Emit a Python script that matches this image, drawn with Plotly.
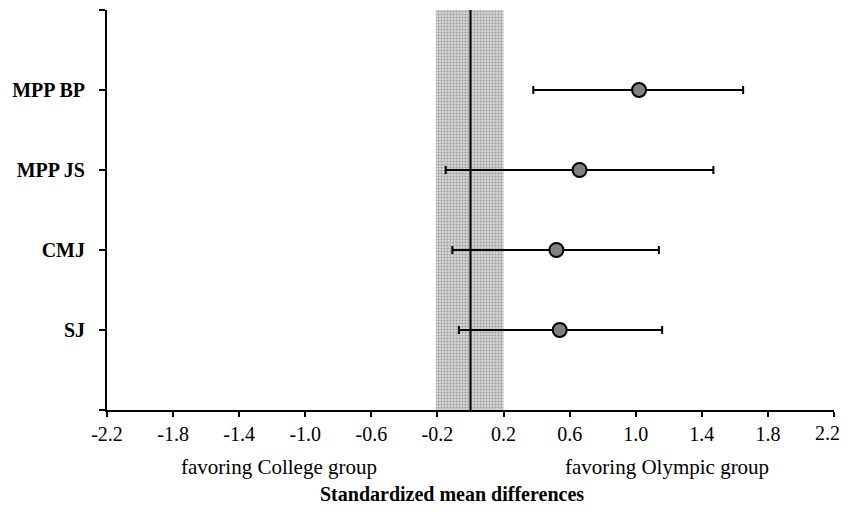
import plotly.graph_objects as go

outcomes = ["SJ", "CMJ", "MPP JS", "MPP BP"]
y_pos = [1, 2, 3, 4]
smd = [0.54, 0.52, 0.66, 1.02]
ci_low = [-0.07, -0.11, -0.15, 0.38]
ci_high = [1.16, 1.14, 1.47, 1.65]

x_ticks = [-2.2, -1.8, -1.4, -1.0, -0.6, -0.2, 0.2, 0.6, 1.0, 1.4, 1.8, 2.2]
x_ticktext = ["-2.2", "-1.8", "-1.4", "-1.0", "-0.6", "-0.2", "0.2", "0.6", "1.0", "1.4", "1.8", "2.2"]
y_ticks = [0, 1, 2, 3, 4, 5]
y_ticktext = ["", "SJ", "CMJ", "MPP JS", "MPP BP", ""]

trivial_band = [-0.21, 0.2]
y_span = [0, 5]

FONT = "Liberation Serif"

# page has an 8px body margin; figure is sized so plot lands at the reference pixels
OFF = 8
W, H = 840, 496
ML, MR, MT, MB = 99, 14, 2, 94

fig = go.Figure()

fig.add_trace(go.Scatter(
    x=[trivial_band[0], trivial_band[1], trivial_band[1], trivial_band[0], trivial_band[0]],
    y=[y_span[0], y_span[0], y_span[1], y_span[1], y_span[0]],
    mode="lines", fill="toself", line=dict(width=0),
    fillcolor="#d0d0d0",
    fillpattern=dict(shape=".", fgcolor="#5e5e5e", bgcolor="#d6d6d6", size=3, solidity=0.4),
    hoverinfo="skip", showlegend=False,
))

fig.add_trace(go.Scatter(
    x=[0, 0], y=y_span, mode="lines",
    line=dict(color="black", width=2), hoverinfo="skip", showlegend=False,
))

fig.add_trace(go.Scatter(
    x=smd, y=y_pos, mode="markers",
    marker=dict(size=14, color="#808080", line=dict(color="black", width=2)),
    error_x=dict(type="data", symmetric=False,
                 array=[h - m for h, m in zip(ci_high, smd)],
                 arrayminus=[m - l for m, l in zip(smd, ci_low)],
                 color="black", thickness=2, width=4),
    showlegend=False,
))

pw = W - ML - MR
ph = H - MT - MB


def px_to_paper(px, py):
    return (px - OFF - ML) / pw, (H - MB - (py - OFF)) / ph


# last tick label is drawn as an annotation pulled slightly left so it is not clipped
shown_ticktext = x_ticktext[:-1] + [""]

ann = []
for text, px, py, size, bold in [
    ("favoring College group", 279, 467, 21, False),
    ("favoring Olympic group", 667, 467, 21, False),
    ("Standardized mean differences", 452, 494, 20, True),
    (x_ticktext[-1], 827, 433, 20, False),
]:
    ax, ay = px_to_paper(px, py)
    ann.append(dict(text=f"<b>{text}</b>" if bold else text, x=ax, y=ay,
                    xref="paper", yref="paper",
                    xanchor="center", yanchor="middle",
                    showarrow=False, font=dict(family=FONT, size=size, color="black")))

fig.update_layout(
    width=W, height=H,
    margin=dict(l=ML, r=MR, t=MT, b=MB),
    plot_bgcolor="white", paper_bgcolor="white",
    font=dict(family=FONT, size=20, color="black"),
    xaxis=dict(range=[-2.2, 2.2], tickvals=x_ticks, ticktext=shown_ticktext,
               showgrid=False, zeroline=False, showline=True, linecolor="black", linewidth=2,
               ticks="outside", ticklen=5, tickwidth=2, tickcolor="black",
               tickfont=dict(family=FONT, size=20)),
    yaxis=dict(range=[0, 5], tickvals=y_ticks, ticktext=y_ticktext,
               showgrid=False, zeroline=False, showline=True, linecolor="black", linewidth=2,
               ticks="outside", ticklen=6, tickwidth=2, tickcolor="black",
               ticklabelstandoff=10,
               tickfont=dict(family=FONT, size=20, weight="bold")),
    annotations=ann,
)

fig.write_html("out.html")
